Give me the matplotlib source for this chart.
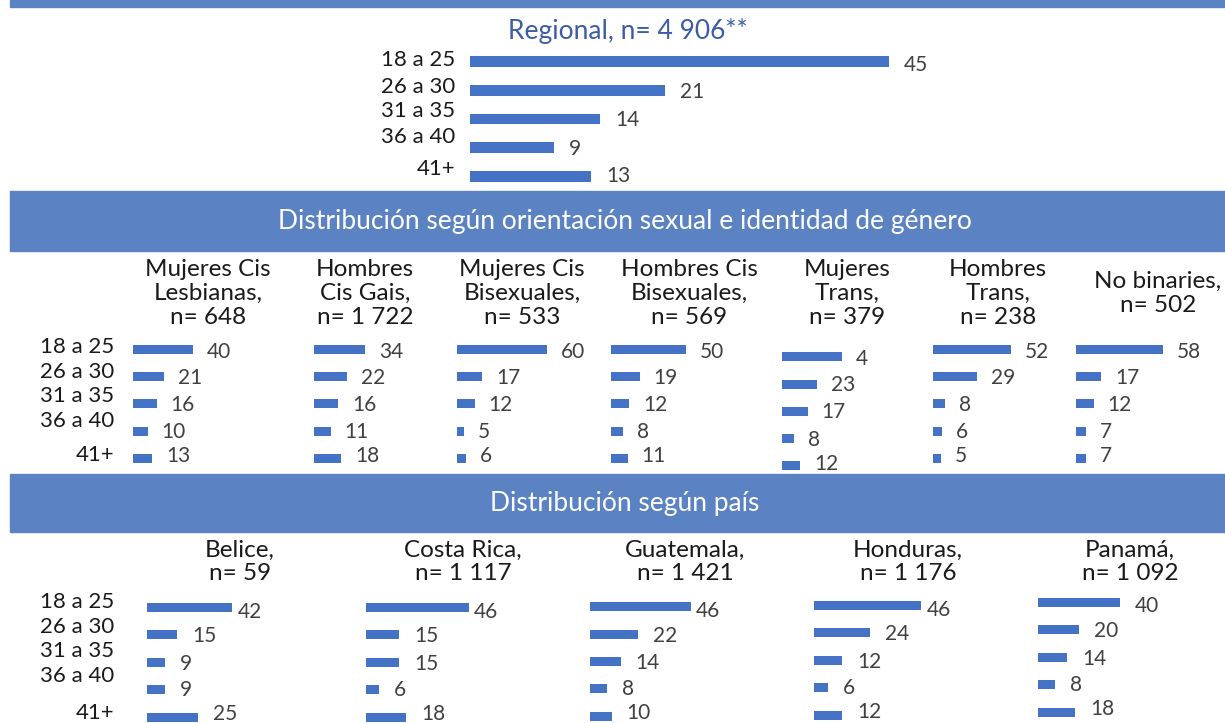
import matplotlib
matplotlib.use('Agg')
import matplotlib.pyplot as plt
from matplotlib.patches import Rectangle

# ---------------- data ----------------
ages = ['18 a 25', '26 a 30', '31 a 35', '36 a 40', '41+']

regional_title = 'Regional, n= 4 906**'
regional = [45, 21, 14, 9, 13]

group_header = 'Distribución según orientación sexual e identidad de género'
group_titles = ['Mujeres Cis\nLesbianas,\nn= 648',
                'Hombres\nCis Gais,\nn= 1 722',
                'Mujeres Cis\nBisexuales,\nn= 533',
                'Hombres Cis\nBisexuales,\nn= 569',
                'Mujeres\nTrans,\nn= 379',
                'Hombres\nTrans,\nn= 238',
                'No binaries,\nn= 502']
lesbianas = [40, 21, 16, 10, 13]
gais = [34, 22, 16, 11, 18]
bisexuales_m = [60, 17, 12, 5, 6]
bisexuales_h = [50, 19, 12, 8, 11]
trans_m = [40, 23, 17, 8, 12]
trans_m_labels = ['4', '23', '17', '8', '12']   # label as printed in the source
trans_h = [52, 29, 8, 6, 5]
no_binaries = [58, 17, 12, 7, 7]

country_header = 'Distribución según país'
country_titles = ['Belice,\nn= 59', 'Costa Rica,\nn= 1 117', 'Guatemala,\nn= 1 421',
                  'Honduras,\nn= 1 176', 'Panamá,\nn= 1 092']
belice = [42, 15, 9, 9, 25]
costa_rica = [46, 15, 15, 6, 18]
guatemala = [46, 22, 14, 8, 10]
honduras = [46, 24, 12, 6, 12]
panama = [40, 20, 14, 8, 18]

# ---------------- style ----------------
W, H = 1225, 723
BAR = '#4472C4'
BAND = '#5B82C2'
TITLE_BLUE = '#3D5CA5'
VAL = '#404040'
TXT = '#1A1A1A'
FONT = 'Lato'

fig = plt.figure(figsize=(W / 100, H / 100), dpi=100)
fig.patch.set_facecolor('white')


def fx(x):
    return x / W


def fy(y):
    return 1 - y / H


def band(y0, y1, text=None):
    fig.patches.append(Rectangle((fx(10), fy(y1)), fx(W - 10), (y1 - y0) / H,
                                 transform=fig.transFigure, color=BAND, zorder=0))
    if text:
        fig.text(fx(625), fy((y0 + y1) / 2 + 1), text, ha='center', va='center',
                 color='white', fontsize=19, family=FONT)


def panel(x0, y_first, dy, scale, values, labels=None, bar_h=9, width_px=220,
          gap=14, yoffs=(1.5, 1.5, 1.5, 1.5, -2), first_gap=None):
    if labels is None:
        labels = [str(v) for v in values]
    ax = fig.add_axes([fx(x0), fy(y_first + 4.5 * dy), width_px / W, 5 * dy / H])
    ax.set_xlim(0, width_px / scale)
    ax.set_ylim(4.5, -0.5)
    ax.barh(range(len(values)), values, height=bar_h / dy, color=BAR)
    for i, (v, lab) in enumerate(zip(values, labels)):
        g = gap if (i > 0 or first_gap is None) else first_gap
        ax.annotate(lab, (v, i), xytext=(g * 0.72, -yoffs[i] * 0.72),
                    textcoords='offset points', ha='left', va='center',
                    color=VAL, fontsize=15, family=FONT, annotation_clip=False)
    ax.axis('off')
    return ax


def age_labels(x_right, ys):
    for lab, y in zip(ages, ys):
        fig.text(fx(x_right), fy(y), lab, ha='right', va='center', color=TXT,
                 fontsize=16, family=FONT)


# ---------------- top: regional ----------------
band(0, 7)
fig.text(fx(628), fy(31), regional_title, ha='center', va='center',
         color=TITLE_BLUE, fontsize=19, family=FONT)
panel(470, 61.7, 28.65, 9.3, regional, bar_h=10.5, width_px=500, gap=15,
      yoffs=(3.5, 1.5, 1.5, 1.5, 0))
age_labels(455, [60, 87, 111, 137, 169])

# ---------------- group section ----------------
band(191, 251, group_header)
group_series = [lesbianas, gais, bisexuales_m, bisexuales_h, trans_m, trans_h, no_binaries]
group_labels = [None, None, None, None, trans_m_labels, None, None]
group_x0 = [132.5, 314, 456.5, 611, 782, 933, 1075.5]
group_tx = [208, 365, 522, 689, 847, 998, 1158]
group_y0 = [349.3, 349.3, 349.3, 349.3, 356.8, 349.3, 349.3]
for s, lab, x0, tx, y0, t in zip(group_series, group_labels, group_x0, group_tx,
                                 group_y0, group_titles):
    panel(x0, y0, 27.25, 1.5, s, labels=lab, bar_h=9, width_px=140, gap=14,
          yoffs=(2.5, 1, 1, 1, -2))
    fig.text(fx(tx), fy(293.5), t, ha='center', va='center', multialignment='center',
             color=TXT, fontsize=17.5, family=FONT, linespacing=1.17)
age_labels(114, [346.7, 371.7, 396, 420.7, 455])

# ---------------- country section ----------------
band(474, 532, country_header)
country_series = [belice, costa_rica, guatemala, honduras, panama]
country_x0 = [147, 365.6, 589.7, 814.4, 1038.4]
country_scale = [2.03, 2.25, 2.2, 2.32, 2.05]
country_tx = [240, 463, 685, 908, 1130]
country_y0 = [607.5, 607.5, 606.7, 605.5, 602.5]
country_fg = [6, 5, 5, 6, 14]
for s, x0, sc, tx, y0, fg, t in zip(country_series, country_x0, country_scale,
                                    country_tx, country_y0, country_fg, country_titles):
    panel(x0, y0, 27.4, sc, s, bar_h=9, width_px=180, gap=15,
          yoffs=(4, 1.5, 1.5, 0.5, -3.5), first_gap=fg)
    fig.text(fx(tx), fy(561.7), t, ha='center', va='center', multialignment='center',
             color=TXT, fontsize=17.5, family=FONT, linespacing=1.15)
age_labels(114.6, [601.7, 626.7, 651, 676, 713.3])

fig.savefig('out.png', dpi=100, facecolor='white')
